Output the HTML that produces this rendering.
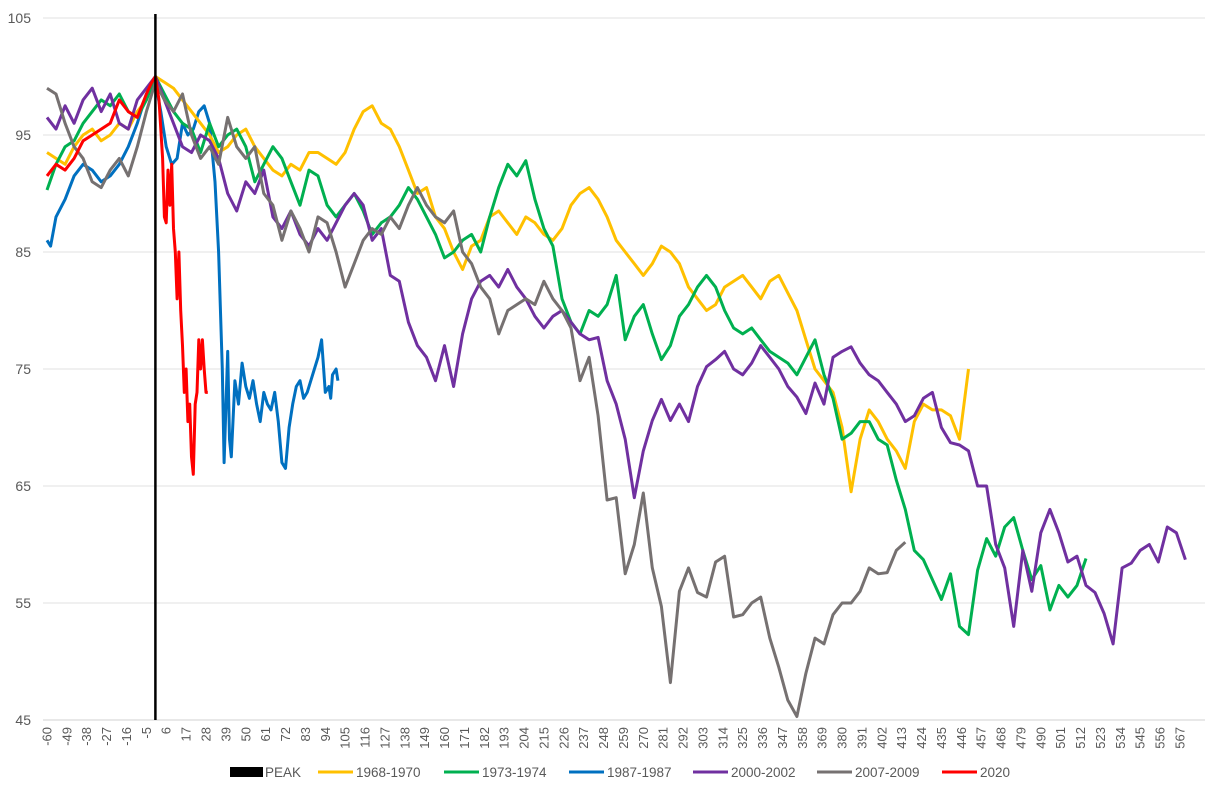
<!DOCTYPE html>
<html><head><meta charset="utf-8"><style>
html,body{margin:0;padding:0;background:#fff;}
svg{display:block;font-family:"Liberation Sans",sans-serif;}
</style></head><body>
<svg id="chart" width="1214" height="798" viewBox="0 0 1214 798" xmlns="http://www.w3.org/2000/svg">
<g id="grid"></g>
<g id="yaxis"></g>
<g id="xaxis"></g>
<g id="series"></g>
<g id="legend"></g>
</svg>
<script>
const yTicks = [45, 55, 65, 75, 85, 95, 105];
const xTickLabels = [-60,-49,-38,-27,-16,-5,6,17,28,39,50,61,72,83,94,105,116,127,138,149,160,171,182,193,204,215,226,237,248,259,270,281,292,303,314,325,336,347,358,369,380,391,402,413,424,435,446,457,468,479,490,501,512,523,534,545,556,567];
const seriesNames = ["1968-1970","1973-1974","1987-1987","2000-2002","2007-2009","2020"];
const seriesColors = ["#FFC000","#00B050","#0070C0","#7030A0","#767171","#FF0000"];
const peakDay = 0;
const stepStart = -60;
const stepSize = 5;
const v1968 = [93.5,93,92.5,94,95,95.5,94.5,95,96,95.5,97,98,100,99.5,99,98,97,96,95,93.5,94,95,95.5,94,93,92,91.5,92.5,92,93.5,93.5,93,92.5,93.5,95.5,97,97.5,96,95.5,94,92,90,90.5,88,87,85,83.5,85.5,86,88,88.5,87.5,86.5,88,87.5,86.5,86,87,89,90,90.5,89.5,88,86,85,84,83,84,85.5,85,84,82,81,80,80.5,82,82.5,83,82,81,82.5,83,81.5,80,77.5,75,74,73,70,64.5,69,71.5,70.5,69,68,66.5,70.5,72,71.5,71.5,71,69,75];
const v1973 = [90.3,92.5,94,94.5,96,97,98,97.5,98.5,97,96.5,98,100,98.5,97,96,95.5,93.5,96,94,95,95.5,94,91,92.5,94,93,91,89,92,91.5,89,88,89,90,88.5,86.5,87.5,88,89,90.5,89.5,88,86.5,84.5,85,86,86.5,85,88,90.5,92.5,91.5,92.8,89.5,87,85.5,81,79,78,80,79.5,80.5,83,77.5,79.5,80.5,78,75.8,77,79.5,80.5,82,83,82,80,78.5,78,78.5,77.5,76.5,76,75.5,74.5,76,77.5,74.5,72.5,69,69.5,70.5,70.5,69,68.5,65.5,63,59.5,58.7,57,55.3,57.5,53,52.3,57.8,60.5,59,61.5,62.3,59.5,57,58.2,54.4,56.5,55.5,56.5,58.8];
const v2000 = [96.5,95.5,97.5,96,98,99,97,98.5,96,95.5,98,99,100,98,96,94,93.5,95,94.5,93,90,88.5,91,90,92,88,87,88.5,86.5,85.5,87,86,87.5,89,90,89,86,87,83,82.5,79,77,76,74,77,73.5,78,81,82.5,83,82,83.5,82,81,79.5,78.5,79.5,80,79,78,77.5,77.7,74,72,69,64,68,70.6,72.4,70.6,72,70.5,73.5,75.2,75.8,76.5,75,74.5,75.5,77,76,75,73.5,72.6,71.2,73.8,72,76,76.5,76.9,75.5,74.5,74,73,72,70.5,71,72.5,73,70,68.7,68.5,68,65,65,60,58,53,59.5,56,61,63,61,58.5,59,56.5,55.9,54.1,51.5,58,58.4,59.5,60,58.5,61.5,61,58.7];
const v2007 = [99,98.5,96,94,93,91,90.5,92,93,91.5,94,97,99.5,98,97,98.5,95,93,94,92.5,96.5,94,93,94,90,89,86,88.5,87,85,88,87.5,85,82,84,86,87,86.5,88,87,89,90.5,89,88,87.5,88.5,85,84,82,81,78,80,80.5,81,80.5,82.5,81,80,78.5,74,76,71,63.8,64,57.5,60,64.4,58,54.7,48.2,56,58,55.9,55.5,58.5,59,53.8,54,55,55.5,52,49.5,46.7,45.3,49,52,51.5,54,55,55,56,58,57.5,57.6,59.5,60.2];
const d1987 = [-60,-58,-55,-50,-45,-40,-35,-30,-25,-20,-15,-10,-5,0,3,6,9,12,15,18,21,24,27,30,33,35,37,38,40,41,42,44,46,48,50,52,54,56,58,60,62,64,66,68,70,72,74,76,78,80,82,84,86,88,90,92,94,96,97,98,100,101];
const v1987 = [86,85.5,88,89.5,91.5,92.5,92,91,91.5,92.5,94,96,98.5,99.5,97,94,92.5,93,96,95,95.5,97,97.5,96,91,85,75,67,76.5,69,67.5,74,72,75.5,73.5,72.5,74,72,70.5,73,72,71.5,73,70.5,67,66.5,70,72,73.5,74,72.5,73,74,75,76,77.5,73,73.5,72.5,74.5,75,74];
const d2020 = [-60,-55,-50,-45,-40,-35,-30,-25,-20,-15,-10,-5,-2,0,2,4,5,6,7,8,9,10,11,12,13,14,15,16,17,18,19,20,21,22,23,24,25,26,27,28,29];
const v2020 = [91.5,92.5,92,93,94.5,95,95.5,96,98,97,96.5,98.5,99.5,100,98,93,88,87.5,92,89,92.5,87,85,81,85,80,77,73,75,70.5,72,67.5,66,72,73,77.5,75,77.5,75,73,73];

const NS = "http://www.w3.org/2000/svg";
function X(d){ return 155.4 + 1.807 * d; }
function Y(v){ return 18 + (105 - v) * 11.7; }
function mk(tag, attrs, parent){
  const e = document.createElementNS(NS, tag);
  for (const k in attrs) e.setAttribute(k, attrs[k]);
  parent.appendChild(e);
  return e;
}
const grid = document.getElementById('grid');
const yaxis = document.getElementById('yaxis');
const xaxis = document.getElementById('xaxis');
const series = document.getElementById('series');
const legend = document.getElementById('legend');

yTicks.forEach(t => {
  const ln = mk('line', {x1:43, x2:1205, y1:Y(t), y2:Y(t), stroke: t===45 ? '#d0d0d0' : '#e2e2e2', 'stroke-width':1}, grid);
  
  
  const tx = mk('text', {x:31, y:Y(t)+5, 'text-anchor':'end', 'font-size':14, fill:'#595959'}, yaxis);
  tx.textContent = t;
  
  
});
xTickLabels.forEach(t => {
  const x = X(t);
  const tx = mk('text', {x:0, y:0, 'text-anchor':'end', 'font-size':13, fill:'#595959', transform:'translate(' + (x+4.5) + ',727) rotate(-90)'}, xaxis);
  tx.textContent = t;
  
  
});

function pathFrom(days, vals){
  let p = '';
  for (let i = 0; i < vals.length; i++) {
    p += (i ? 'L' : 'M') + X(days[i]).toFixed(1) + ',' + Y(vals[i]).toFixed(1);
  }
  return p;
}
function stepDays(vals){
  const out = [];
  for (let i = 0; i < vals.length; i++) out.push(stepStart + i * stepSize);
  return out;
}
const allSeries = [
  [stepDays(v1968), v1968],
  [stepDays(v1973), v1973],
  [d1987, v1987],
  [stepDays(v2000), v2000],
  [stepDays(v2007), v2007],
  [d2020, v2020]
];
const order = [2, 0, 1, 3, 4, 5];
order.forEach(i => {
  const s = allSeries[i];
  const p = mk('path', {d: pathFrom(s[0], s[1]), fill:'none', stroke: seriesColors[i], 'stroke-width':3, 'stroke-linejoin':'round'}, series);
  
  
});
const peak = mk('line', {x1:X(peakDay), x2:X(peakDay), y1:14, y2:720, stroke:'#000', 'stroke-width':2.5}, series);



const pk = mk('rect', {x:230, y:767, width:33, height:10, fill:'#000'}, legend);


const pkt = mk('text', {x:265, y:777, 'font-size':13.5, fill:'#595959'}, legend);
pkt.textContent = 'PEAK';


const legX = [318, 444, 569, 693, 817, 942];
seriesNames.forEach((n, i) => {
  const l = mk('line', {x1:legX[i], x2:legX[i]+35, y1:772, y2:772, stroke:seriesColors[i], 'stroke-width':3}, legend);
  
  
  const t = mk('text', {x:legX[i]+38, y:777, 'font-size':13.5, fill:'#595959'}, legend);
  t.textContent = n;
  
  
});
</script>
</body></html>
